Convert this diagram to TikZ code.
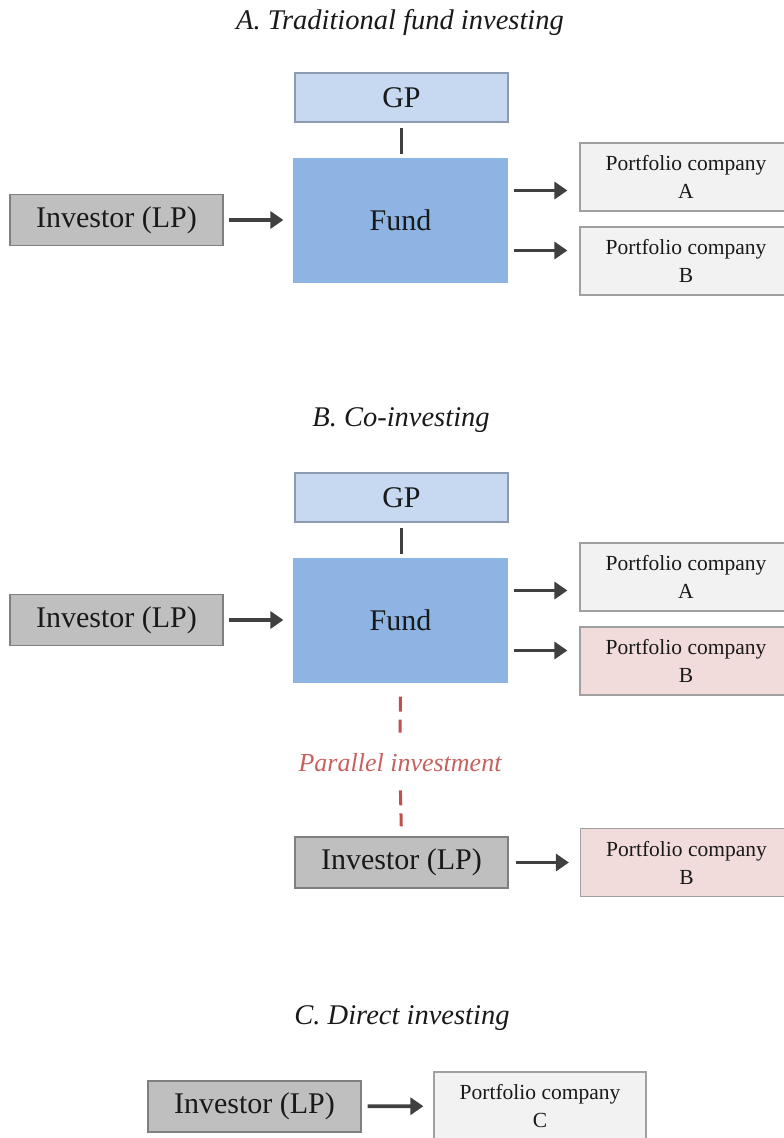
\documentclass[tikz,border=0pt]{standalone}
\usepackage{fontspec}
\setmainfont{Liberation Serif}
\usepackage{xcolor}
\usepackage{tikz}
\usetikzlibrary{arrows.meta}
\definecolor{gpblue}{RGB}{198,217,241}
\definecolor{gpedge}{RGB}{140,155,176}
\definecolor{fundblue}{RGB}{141,180,226}
\definecolor{lpgray}{RGB}{191,191,191}
\definecolor{lpedge}{RGB}{128,128,128}
\definecolor{pcgray}{RGB}{242,242,242}
\definecolor{pcpink}{RGB}{242,220,219}
\definecolor{pcedge}{RGB}{160,160,160}
\definecolor{dgray}{RGB}{64,64,64}
\definecolor{dred}{RGB}{192,80,77}
\colorlet{partext}{dred!90!white}
\colorlet{txt}{black!90}
\newcommand\bigtxt{\fontsize{30}{36}\selectfont}
\newcommand\pctxt{\fontsize{21.5}{28}\selectfont}
\newcommand\ttltxt{\fontsize{28.5}{34}\selectfont\itshape}
\tikzstyle{box}=[rectangle,inner sep=0pt,line width=1.2pt,text=txt,align=center]
\tikzstyle{gp}=[box,fill=gpblue,draw=gpedge,minimum width=213pt,minimum height=49pt,font=\bigtxt]
\tikzstyle{fund}=[box,fill=fundblue,minimum width=215pt,minimum height=125pt,font=\bigtxt]
\tikzstyle{lp}=[box,fill=lpgray,draw=lpedge,minimum width=213pt,minimum height=51pt,font=\bigtxt]
\tikzstyle{pc}=[box,fill=pcgray,draw=pcedge,minimum width=212pt,minimum height=68pt,font=\pctxt]
\tikzstyle{pcb}=[pc,fill=pcpink]
\tikzstyle{ttl}=[font=\ttltxt,text=txt]
\tikzstyle{partxt}=[inner sep=0pt,font=\fontsize{26}{30}\selectfont\itshape,text=partext]
\tikzstyle{gplink}=[line width=3pt,draw=dgray]
\tikzstyle{parline}=[line width=3pt,draw=dred,dash pattern=on 15pt off 8pt]
\tikzstyle{rw}=[line width=3.8pt,draw=dgray,-{Triangle[length=13pt,width=17pt]}]

\begin{document}
\begin{tikzpicture}[x=1pt,y=-1pt]
	\useasboundingbox (0,0) rectangle (784,1138);
	% A. traditional fund investing
	\node[ttl] (ta) at (400,22) {A. Traditional fund investing};
	\node[gp]   (gpa)   at (401.5,97.5)  {GP};
	\node[fund] (funda) at (400.5,220.5) {Fund};
	\node[lp]   (lpa)   at (116.5,220)   {Investor (LP)};
	\node[pc]   (pcaa)  at (686,177)     {Portfolio company\\A};
	\node[pc]   (pcab)  at (686,261)     {Portfolio company\\B};
	\draw[gplink,shorten <=5pt,shorten >=3pt] (gpa.south) -- (gpa.south |- funda.north);
	\draw[rw,shorten <=5pt,shorten >=9pt] (lpa.east) -- (lpa.east -| funda.west);
	\draw[rw,shorten <=5pt,shorten >=12pt] ([yshift=30pt]funda.east) -- ([yshift=30pt]funda.east -| pcaa.west);
	\draw[rw,shorten <=5pt,shorten >=12pt] ([yshift=-30pt]funda.east) -- ([yshift=-30pt]funda.east -| pcab.west);
	% B. co-investing
	\node[ttl] (tb) at (401,420) {B. Co-investing};
	\node[gp]   (gpb)   at (401.5,497.5) {GP};
	\node[fund] (fundb) at (400.5,620.5) {Fund};
	\node[lp]   (lpb)   at (116.5,620)   {Investor (LP)};
	\node[pc]   (pcba)  at (686,577)     {Portfolio company\\A};
	\node[pcb]  (pcbb)  at (686,661)     {Portfolio company\\B};
	\node[partxt] (parb) at (400,763)    {Parallel investment};
	\node[lp]   (lpb2)  at (401.5,862.5) {Investor (LP)};
	\node[pcb]  (pcbb2) at (686.5,862.5) {Portfolio company\\B};
	\draw[gplink,shorten <=5pt,shorten >=3pt] (gpb.south) -- (gpb.south |- fundb.north);
	\draw[rw,shorten <=5pt,shorten >=9pt] (lpb.east) -- (lpb.east -| fundb.west);
	\draw[rw,shorten <=5pt,shorten >=12pt] ([yshift=30pt]fundb.east) -- ([yshift=30pt]fundb.east -| pcba.west);
	\draw[rw,shorten <=5pt,shorten >=12pt] ([yshift=-30pt]fundb.east) -- ([yshift=-30pt]fundb.east -| pcbb.west);
	\draw[parline,shorten <=13pt,shorten >=21pt] (fundb.south) -- (parb.north);
	\draw[parline,shorten <=18pt,shorten >=10pt] (parb.south) -- (lpb2.north);
	\draw[rw,shorten <=7pt,shorten >=11pt] (lpb2) -- (pcbb2);
	% C. direct investing
	\node[ttl] (tc) at (402,1018) {C. Direct investing};
	\node[lp]   (lpc)   at (254.5,1106.5) {Investor (LP)};
	\node[pc]   (pcc)   at (540,1106)     {Portfolio company\\C};
	\draw[rw,shorten <=6pt,shorten >=10pt] (lpc) -- (pcc);
\end{tikzpicture}
\end{document}
